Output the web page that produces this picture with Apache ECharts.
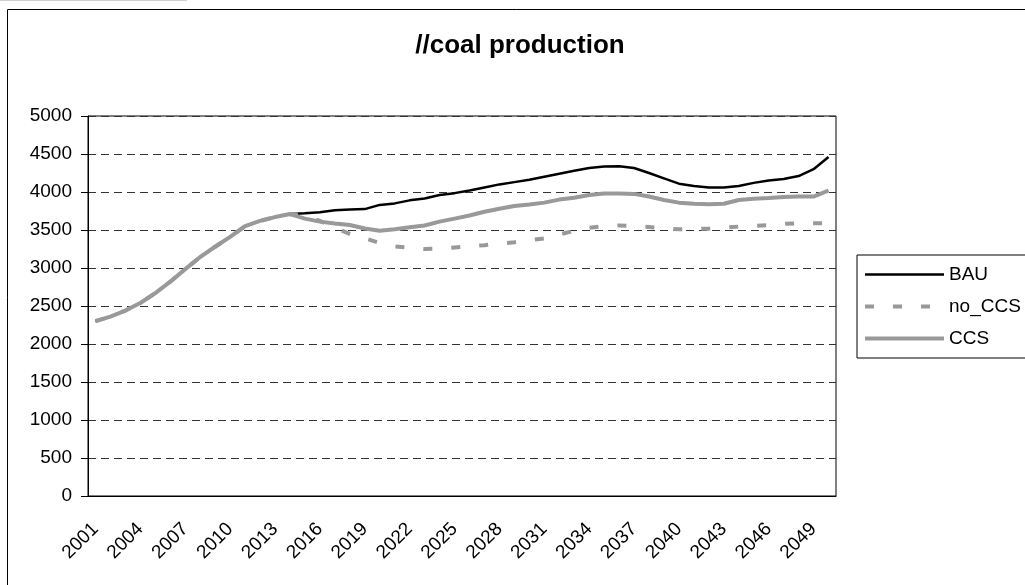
<!DOCTYPE html>
<html>
<head>
<meta charset="utf-8">
<script src="https://cdn.jsdelivr.net/npm/echarts@6/dist/echarts.min.js"></script>
<style>
  html, body { margin: 0; padding: 0; background: #fff; }
  #chart { width: 1025px; height: 585px; }
</style>
</head>
<body>
<div id="chart"></div>
<script>
// Years on the category axis
const years = [
  '2001','2002','2003','2004','2005','2006','2007','2008','2009','2010',
  '2011','2012','2013','2014','2015','2016','2017','2018','2019','2020',
  '2021','2022','2023','2024','2025','2026','2027','2028','2029','2030',
  '2031','2032','2033','2034','2035','2036','2037','2038','2039','2040',
  '2041','2042','2043','2044','2045','2046','2047','2048','2049','2050'
];

// Coal production by scenario
const bau = [
  2300, 2360, 2440, 2540, 2670, 2820, 2985, 3145, 3280, 3410,
  3550, 3620, 3670, 3710, 3720, 3735, 3760, 3770, 3775, 3830,
  3850, 3890, 3915, 3960, 3985, 4020, 4060, 4100, 4130, 4160,
  4200, 4240, 4280, 4315, 4335, 4340, 4315, 4250, 4180, 4110,
  4080, 4060, 4060, 4080, 4120, 4150, 4170, 4210, 4300, 4460
];
const noCcs = [
  2300, 2360, 2440, 2540, 2670, 2820, 2985, 3145, 3280, 3410,
  3550, 3620, 3670, 3710, 3690, 3620, 3530, 3450, 3390, 3330,
  3285, 3265, 3250, 3255, 3270, 3285, 3300, 3320, 3340, 3365,
  3390, 3440, 3490, 3530, 3550, 3560, 3555, 3540, 3520, 3510,
  3512, 3518, 3530, 3545, 3555, 3565, 3580, 3590, 3590, 3590
];
const ccs = [
  2300, 2360, 2440, 2540, 2670, 2820, 2985, 3145, 3280, 3410,
  3550, 3620, 3670, 3710, 3650, 3610, 3585, 3565, 3520, 3490,
  3510, 3535, 3560, 3610, 3650, 3690, 3740, 3780, 3815, 3835,
  3860, 3900, 3925, 3960, 3980, 3980, 3975, 3940, 3895, 3860,
  3845, 3840, 3845, 3895, 3910, 3920, 3935, 3940, 3940, 4020
];

// Value-axis ticks
const yTicks = [0, 500, 1000, 1500, 2000, 2500, 3000, 3500, 4000, 4500, 5000];

const FONT = '"Liberation Sans", Arial, sans-serif';
const GREY = '#999999';
const DASH = [9, 19];

const chart = echarts.init(document.getElementById('chart'), null, { renderer: 'canvas' });

chart.setOption({
  animation: false,
  backgroundColor: '#ffffff',
  textStyle: { fontFamily: FONT, color: '#000' },
  graphic: [
    // outer frame of the chart area
    { type: 'rect', z: -1, shape: { x: 7.5, y: 9.5, width: 1100, height: 1000 },
      style: { fill: 'none', stroke: '#000', lineWidth: 1 } },
    { type: 'line', shape: { x1: 0, y1: 0.5, x2: 187, y2: 0.5 },
      style: { stroke: '#d0d0d0', lineWidth: 1 } },
    // chart title
    { type: 'text', x: 520, y: 46,
      style: { text: '//coal production', fontFamily: FONT, fontSize: 26, fontWeight: 'bold',
               fill: '#000', textAlign: 'center', textVerticalAlign: 'middle' } }
  ],
  grid: {
    left: 88, right: 189, top: 116, bottom: 89,
    show: true, borderColor: '#000', borderWidth: 1, backgroundColor: '#fff'
  },
  legend: {
    orient: 'vertical',
    left: 857, top: 255,
    padding: [10, 7, 10, 6],
    itemWidth: 79, itemHeight: 14, itemGap: 13,
    borderColor: '#000', borderWidth: 1, borderRadius: 0,
    backgroundColor: '#fff',
    itemStyle: { opacity: 0 },
    textStyle: { fontFamily: FONT, fontSize: 19, color: '#000' },
    data: [
      { name: 'BAU', lineStyle: { color: '#000', width: 2.5, type: 'solid' } },
      { name: 'no_CCS', lineStyle: { color: GREY, width: 4, type: DASH } },
      { name: 'CCS', lineStyle: { color: GREY, width: 4, type: 'solid' } }
    ]
  },
  xAxis: {
    type: 'category',
    data: years,
    boundaryGap: true,
    axisLine: { lineStyle: { color: '#000', width: 1 } },
    axisTick: { interval: 0, length: 7, lineStyle: { color: '#555' } },
    axisLabel: {
      interval: 2, rotate: 45, margin: 30,
      fontFamily: FONT, fontSize: 19, color: '#000'
    },
    splitLine: { show: false }
  },
  yAxis: {
    type: 'value',
    min: yTicks[0], max: yTicks[yTicks.length - 1], interval: yTicks[1] - yTicks[0],
    axisLine: { show: true, lineStyle: { color: '#000', width: 1 } },
    axisTick: { show: true, length: 7, lineStyle: { color: '#000' } },
    axisLabel: {
      margin: 16, fontFamily: FONT, fontSize: 19, color: '#000',
      formatter: (v) => String(v)
    },
    splitLine: { show: true, lineStyle: { color: '#333', width: 1, type: [8, 5] } }
  },
  series: [
    { name: 'BAU', type: 'line', data: bau, symbol: 'none', showSymbol: false,
      lineStyle: { color: '#000', width: 2.5 }, itemStyle: { color: '#000' } },
    { name: 'no_CCS', type: 'line', data: noCcs, symbol: 'none', showSymbol: false,
      lineStyle: { color: GREY, width: 4, type: DASH }, itemStyle: { color: GREY } },
    { name: 'CCS', type: 'line', data: ccs, symbol: 'none', showSymbol: false,
      lineStyle: { color: GREY, width: 4 }, itemStyle: { color: GREY } }
  ]
});
</script>
</body>
</html>
